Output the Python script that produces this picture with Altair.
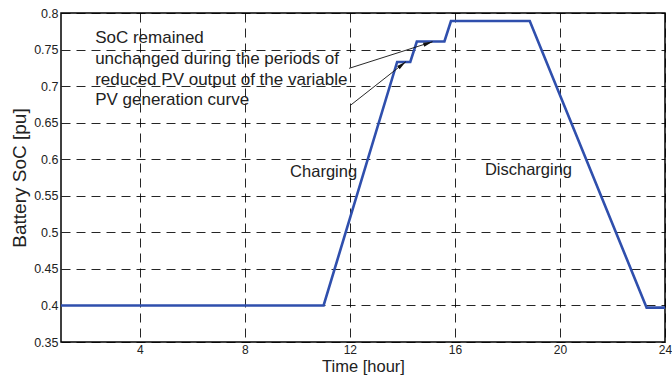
import altair as alt
import pandas as pd

# --- data ---
hours = [1, 11, 13.8, 14.3, 14.55, 15.6, 15.85, 18.85, 23.3, 24]
soc = [0.4, 0.4, 0.733, 0.733, 0.761, 0.761, 0.789, 0.789, 0.397, 0.397]

x_ticks = [4, 8, 12, 16, 20, 24]
y_ticks = [0.35, 0.4, 0.45, 0.5, 0.55, 0.6, 0.65, 0.7, 0.75, 0.8]

note_lines = ["SoC remained", "unchanged during the periods of",
              "reduced PV output of the variable", "PV generation curve"]
note_x = [2.3, 2.3, 2.3, 2.3]
note_y = [0.7658, 0.737, 0.708, 0.681]

arrow_x = [11.97, 12.03]
arrow_y = [0.7243, 0.674]
arrow_x2 = [15.15, 14.13]
arrow_y2 = [0.7607, 0.7333]
arrow_angle = [72, 52]

label_text = ["Charging", "Discharging"]
label_x = [11.0, 18.8]
label_y = [0.582, 0.585]

FONT = "Liberation Sans"

df = pd.DataFrame({"hour": hours, "soc": soc})
notes = pd.DataFrame({"t": note_lines, "x": note_x, "y": note_y})
arrows = pd.DataFrame({"x": arrow_x, "y": arrow_y, "x2": arrow_x2, "y2": arrow_y2,
                       "angle": arrow_angle})
labels = pd.DataFrame({"t": label_text, "x": label_x, "y": label_y})

xs = alt.Scale(domain=[1, 24], nice=False, zero=False)
ys = alt.Scale(domain=[0.35, 0.8], nice=False, zero=False)

xaxis = alt.Axis(values=x_ticks, tickCount=30, title="Time [hour]", grid=True,
                 gridDash=[9, 6], gridColor="#000000", gridOpacity=0.85,
                 labelFont=FONT, labelFontSize=12, labelColor="#222",
                 titleFont=FONT, titleFontSize=16.5, titleFontWeight="normal",
                 titleColor="#222", titlePadding=3, tickSize=0, labelPadding=2,
                 labelOverlap=False, labelBound=False, labelFlush=False,
                 domain=False)
yaxis = alt.Axis(values=y_ticks, tickCount=30, title="Battery SoC [pu]", grid=True,
                 format=".2~f",
                 gridDash=[9, 6], gridColor="#000000", gridOpacity=0.85,
                 labelFont=FONT, labelFontSize=12.5, labelColor="#222",
                 titleFont=FONT, titleFontSize=19, titleFontWeight="normal",
                 titleColor="#222", titlePadding=4, tickSize=0, labelPadding=3,
                 labelOverlap=False, labelBound=False, labelFlush=False,
                 domain=False)

line = alt.Chart(df).mark_line(color="#2f4fad", strokeWidth=2.6).encode(
    x=alt.X("hour:Q", scale=xs, axis=xaxis),
    y=alt.Y("soc:Q", scale=ys, axis=yaxis),
)

note_text = alt.Chart(notes).mark_text(
    align="left", baseline="middle", font=FONT, fontSize=17, color="#222"
).encode(x=alt.X("x:Q", scale=xs), y=alt.Y("y:Q", scale=ys), text="t:N")

arrow_lines = alt.Chart(arrows).mark_rule(color="#111", strokeWidth=0.9).encode(
    x=alt.X("x:Q", scale=xs), y=alt.Y("y:Q", scale=ys), x2="x2:Q", y2="y2:Q"
)

arrow_heads = alt.Chart(arrows).mark_point(
    shape="M0,0L-0.4,1.8L0.4,1.8Z", filled=True, color="#111", size=110, opacity=1
).encode(x=alt.X("x2:Q", scale=xs), y=alt.Y("y2:Q", scale=ys),
         angle=alt.Angle("angle:Q", scale=None))

phase_text = alt.Chart(labels).mark_text(
    align="center", baseline="middle", font=FONT, fontSize=16.5, color="#222"
).encode(x=alt.X("x:Q", scale=xs), y=alt.Y("y:Q", scale=ys), text="t:N")

chart = alt.layer(line, arrow_lines, arrow_heads, note_text, phase_text).properties(
    width=604, height=329,
    autosize=alt.AutoSizeParams(type="none"),
    padding={"left": 61, "top": 13, "right": 7, "bottom": 36},
    background="white",
).configure_view(stroke="#000000", strokeWidth=1.5)

chart.save("out.html", embed_options={"renderer": "svg", "actions": False})
